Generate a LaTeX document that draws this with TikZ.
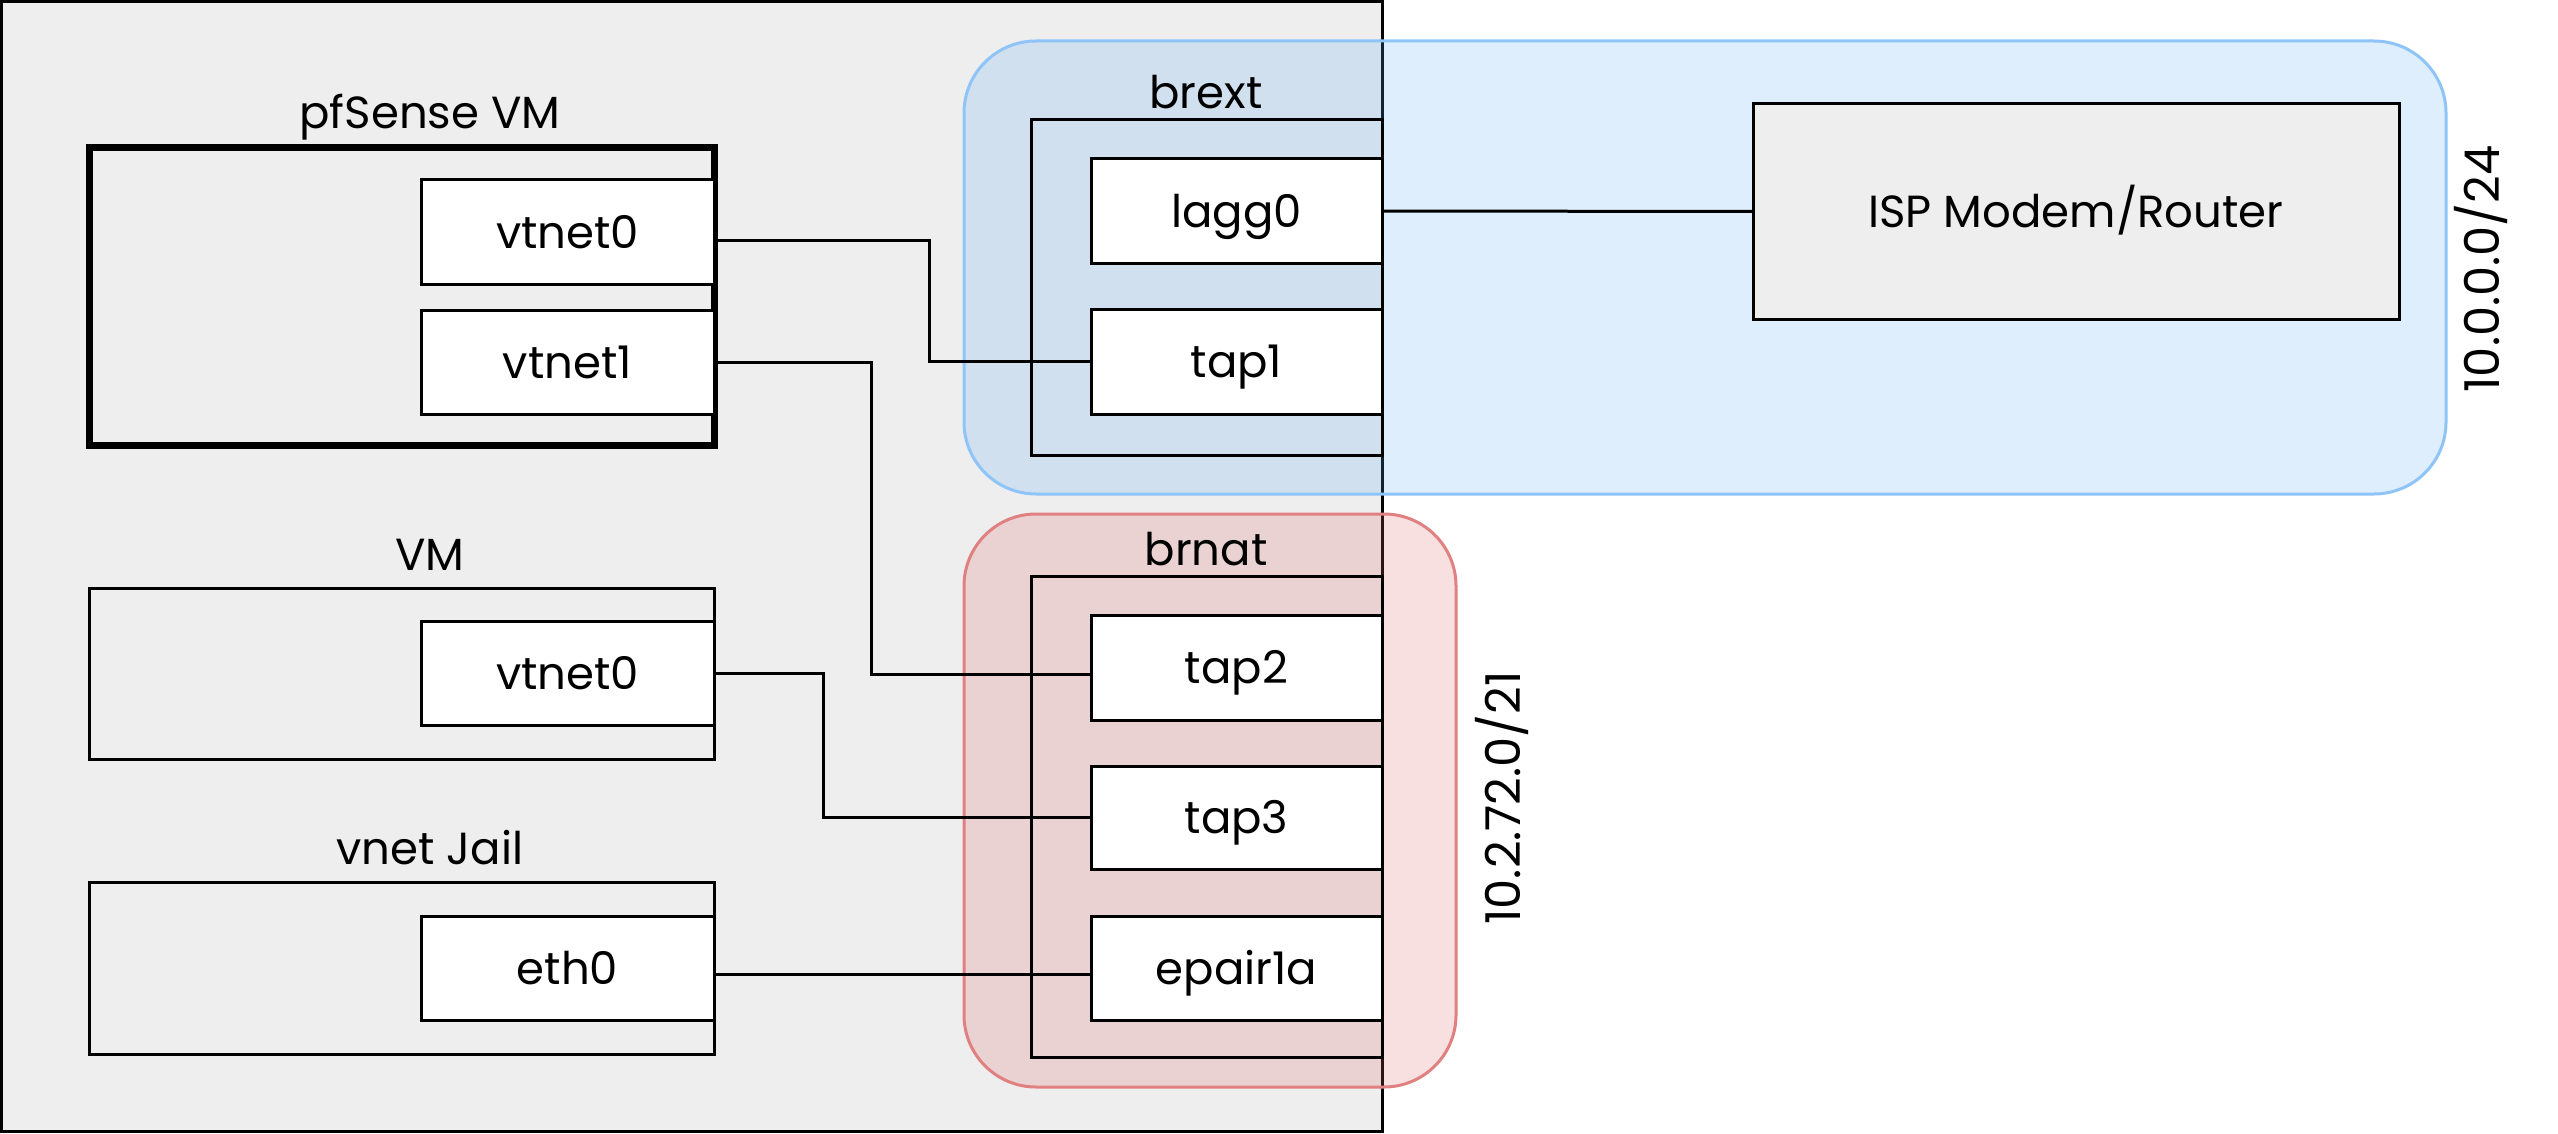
\documentclass[tikz,border=0pt]{standalone}
\usepackage{fontspec}
\setmainfont{Poppins}
\usetikzlibrary{calc}
\definecolor{hostgrey}{HTML}{EEEEEE}
\definecolor{extfill}{RGB}{90,170,240}
\definecolor{extline}{RGB}{142,196,248}
\definecolor{natfill}{RGB}{220,100,100}
\definecolor{natline}{RGB}{224,128,128}
\begin{document}
\begin{tikzpicture}[x=1pt,y=-1pt,
  every node/.style={font=\fontsize{45pt}{54pt}\selectfont, inner sep=0pt, outer sep=0pt},
  hostbox/.style={draw=black, fill=hostgrey, line width=3pt},
  vmbox/.style={draw=black, line width=3pt},
  ifbox/.style={draw=black, fill=white, line width=3pt, text height=32pt, text depth=0pt},
  brbox/.style={draw=black, line width=3pt},
  extregion/.style={draw=extline, fill=extfill, fill opacity=0.2, rounded corners=72pt, line width=3pt},
  natregion/.style={draw=natline, fill=natfill, fill opacity=0.2, rounded corners=72pt, line width=3pt},
  boxlabel/.style={anchor=base},
  netlabel/.style={rotate=90, text height=34pt, text depth=0pt, font=\fontsize{48pt}{56pt}\selectfont},
  wire/.style={draw=black, line width=3pt}
]
\useasboundingbox (0,0) rectangle (2558,1134);

% host
\node[hostbox, minimum width=1380.5pt, minimum height=1130pt] (host) at (691.75,566.5) {};

% bridge regions (translucent)
\node[extregion, minimum width=1482pt, minimum height=453pt] (extR) at (1705,267.5) {};
\node[natregion, minimum width=492pt, minimum height=573pt] (natR) at (1210,800.5) {};

% VMs
\node[vmbox, line width=7pt, minimum width=625pt, minimum height=297pt] (pf) at (401.5,296.5) {};
\node[boxlabel] (pflabel) at (430,129) {pfSense VM};
\node[ifbox, minimum width=293pt, minimum height=104pt] (pfv0) at (567.5,232) {vtnet0};
\node[ifbox, minimum width=293pt, minimum height=104pt] (pfv1) at (567.5,362) {vtnet1};

\node[vmbox, minimum width=625pt, minimum height=171pt] (vm) at (401.5,673.5) {};
\node[boxlabel] (vmlabel) at (430,570) {VM};
\node[ifbox, minimum width=293pt, minimum height=104pt] (vmv0) at (567.5,673) {vtnet0};

\node[vmbox, minimum width=625pt, minimum height=172pt] (jail) at (401.5,968) {};
\node[boxlabel] (jaillabel) at (430,864) {vnet Jail};
\node[ifbox, minimum width=293pt, minimum height=104pt] (eth0) at (567.5,968) {eth0};

% bridges
\node[brbox, minimum width=351pt, minimum height=335pt] (brext) at (1206.5,287.5) {};
\node[boxlabel] (brextlabel) at (1206,109) {brext};
\node[ifbox, minimum width=291pt, minimum height=104pt] (lagg0) at (1236.5,211) {lagg0};
\node[ifbox, minimum width=291pt, minimum height=105pt] (tap1) at (1236.5,361.5) {tap1};

\node[brbox, minimum width=351pt, minimum height=481pt] (brnat) at (1206.5,816.5) {};
\node[boxlabel] (brnatlabel) at (1206,565) {brnat};
\node[ifbox, minimum width=291pt, minimum height=105pt] (tap2) at (1236.5,667.5) {tap2};
\node[ifbox, minimum width=291pt, minimum height=103pt] (tap3) at (1236.5,817.5) {tap3};
\node[ifbox, minimum width=291pt, minimum height=104pt] (epair) at (1236.5,968) {epair1a};

% ISP
\node[ifbox, fill=hostgrey, minimum width=646pt, minimum height=215pt] (isp) at (2076,211.5) {ISP Modem/Router};

% network labels
\node[netlabel] (extnet) at (2482,269) {10.0.0.0/24};
\node[netlabel] (natnet) at (1503,798) {10.2.72.0/21};

% connectors
\draw[wire] ($(pfv0.east)+(0,8)$) -- ++(215,0) |- (tap1.west);
\draw[wire] (pfv1.east) -- ++(157,0) |- ($(tap2.west)+(0,7)$);
\draw[wire] (vmv0.east) -- ++(109,0) |- (tap3.west);
\draw[wire] ($(eth0.east)+(0,6)$) -- ($(epair.west)+(0,6)$);
\draw[wire] (lagg0.east) -- (isp.west);
\end{tikzpicture}
\end{document}
